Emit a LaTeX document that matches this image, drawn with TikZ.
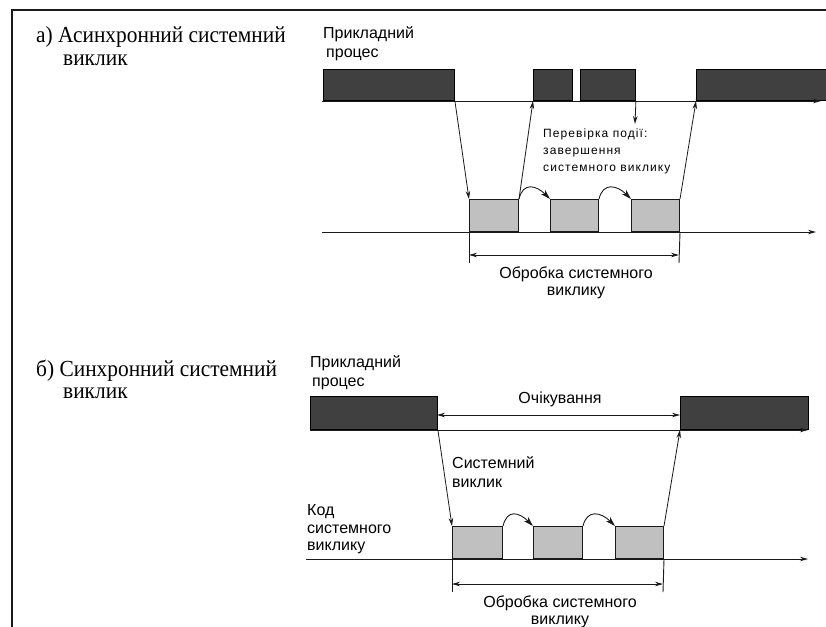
\documentclass[tikz,border=0pt]{standalone}
\usepackage{fontspec}
\setmainfont{Liberation Serif}
\setsansfont{Liberation Sans}
\usetikzlibrary{arrows.meta}
\definecolor{procfill}{HTML}{404040}
\definecolor{sysfill}{HTML}{C0C0C0}
\definecolor{ink}{HTML}{1A1A1A}
\newcommand{\narrowhead}[1]{\scalebox{0.93}[1]{#1}}
\begin{document}
\begin{tikzpicture}[x=1pt,y=-1pt,
  proc/.style={draw=black, fill=procfill, line width=0.9pt, inner sep=0pt,
    anchor=south west, minimum height=31pt},
  sysbox/.style={draw=ink, fill=sysfill, line width=1pt, inner sep=0pt,
    anchor=south west, minimum height=32pt, minimum width=49pt},
  tip/.tip={Stealth[length=8pt,width=4.5pt]},
  bigtip/.tip={Stealth[length=10pt,width=6pt]},
  axis/.style={draw=ink, line width=0.9pt, -tip},
  link/.style={draw=ink, line width=0.8pt, -tip},
  hop/.style={draw=ink, line width=0.9pt, -bigtip},
  dim/.style={draw=ink, line width=0.8pt, tip-tip},
  tickline/.style={draw=ink, line width=0.9pt},
  heading/.style={font=\fontsize{23}{25}\selectfont, inner sep=0pt, anchor=base west},
  label/.style={font=\sffamily\fontsize{16}{18}\selectfont, inner sep=0pt, anchor=base west},
  clabel/.style={font=\sffamily\fontsize{16}{18}\selectfont, inner sep=0pt, anchor=base},
  note/.style={font=\sffamily\fontsize{12}{14}\selectfont\addfontfeature{LetterSpace=9},
    inner sep=0pt, anchor=base west},
]
\useasboundingbox (0,0) rectangle (826,626);

% page frame (top and left edges)
\draw[line width=2.2pt, ink] (12,640) -- (12,10) -- (840,10);

% ---------------- a) asynchronous call ----------------
\node[heading] (ta1) at (36,43) {\narrowhead{а) Асинхронний системний}};
\node[heading] (ta2) at (63,65) {\narrowhead{виклик}};
\node[label] (la1) at (323,38) {Прикладний};
\node[label] (la2) at (326,57) {процес};

% application process slices
\node[proc, minimum width=131pt] (p1) at (323,101) {};
\node[proc, minimum width=39pt]  (p2) at (533,101) {};
\node[proc, minimum width=55pt]  (p3) at (580,101) {};
\node[proc, minimum width=132pt] (p4) at (696,101) {};

% system call code slices
\node[sysbox] (s1) at (469,232) {};
\node[sysbox, minimum width=48pt] (s2) at (550,232) {};
\node[sysbox, minimum width=48pt] (s3) at (631,232) {};

% time axes
\coordinate (a1s) at (322,101);
\coordinate (a1e) at (821,101);
\coordinate (a2s) at (322,232);
\coordinate (a2e) at (816,232);
\draw[axis] (a1s) -- (a1e);
\draw[axis] (a2s) -- (a2e);

% control transfers
\draw[link] (p1.south east) -- (s1.north west);
\draw[link] (s1.north east) -- (p2.south west);
\draw[link] (s3.north east) -- (p4.south west);
\coordinate (chk) at (635,124);
\draw[link] (p3.south east) -- (chk);
\draw[hop] (s1.north east) .. controls +(4,-17) and +(-14,-14) .. (s2.north west);
\draw[hop] (s2.north east) .. controls +(4,-17) and +(-14,-14) .. (s3.north west);

\node[note] (n1) at (543,137) {Перевірка події:};
\node[note] (n2) at (543,154) {завершення};
\node[note] (n3) at (543,171) {системного виклику};

% processing span
\coordinate (ka1) at (469,263);
\coordinate (ka2) at (679,263);
\coordinate (da1) at (469,255);
\coordinate (da2) at (679,255);
\draw[tickline] (s1.south west) -- (ka1);
\draw[tickline] (s3.south east) -- (ka2);
\draw[dim] (da1) -- (da2);
\node[clabel] (oa1) at (576,278) {Обробка системного};
\node[clabel] (oa2) at (576,295) {виклику};

% ---------------- b) synchronous call ----------------
\node[heading] (tb1) at (36,376) {\narrowhead{б) Синхронний системний}};
\node[heading] (tb2) at (63,398) {\narrowhead{виклик}};
\node[label] (lb1) at (310,367) {Прикладний};
\node[label] (lb2) at (312,386) {процес};

\node[proc, minimum width=127pt, minimum height=33pt] (q1) at (310,430) {};
\node[proc, minimum width=128pt, minimum height=33pt] (q2) at (680,430) {};

\node[sysbox, minimum width=50pt] (r1) at (452,559) {};
\node[sysbox] (r2) at (533,559) {};
\node[sysbox, minimum width=48pt] (r3) at (615,559) {};

\coordinate (b1s) at (310,430);
\coordinate (b1e) at (808,430);
\coordinate (b2s) at (306,559);
\coordinate (b2e) at (808,559);
\draw[axis] (b1s) -- (b1e);
\draw[axis] (b2s) -- (b2e);

% waiting span
\coordinate (wb1) at (437,415);
\coordinate (wb2) at (680,415);
\draw[dim] (wb1) -- (wb2);
\node[clabel] (ob) at (560,403) {Очікування};

\draw[link] (q1.south east) -- (r1.north west);
\draw[link] (r3.north east) -- (q2.south west);
\draw[hop] (r1.north east) .. controls +(4,-17) and +(-14,-14) .. (r2.north west);
\draw[hop] (r2.north east) .. controls +(4,-17) and +(-14,-14) .. (r3.north west);

\node[label] (sb1) at (452,468) {Системний};
\node[label] (sb2) at (452,487) {виклик};
\node[label] (kb1) at (307,515) {Код};
\node[label] (kb2) at (307,533) {системного};
\node[label] (kb3) at (307,550) {виклику};

\coordinate (kb1e) at (452,592);
\coordinate (kb2e) at (663,592);
\coordinate (db1) at (452,584);
\coordinate (db2) at (663,584);
\draw[tickline] (r1.south west) -- (kb1e);
\draw[tickline] (r3.south east) -- (kb2e);
\draw[dim] (db1) -- (db2);
\node[clabel] (pb1) at (560,607) {Обробка системного};
\node[clabel] (pb2) at (560,624) {виклику};
\end{tikzpicture}
\end{document}
